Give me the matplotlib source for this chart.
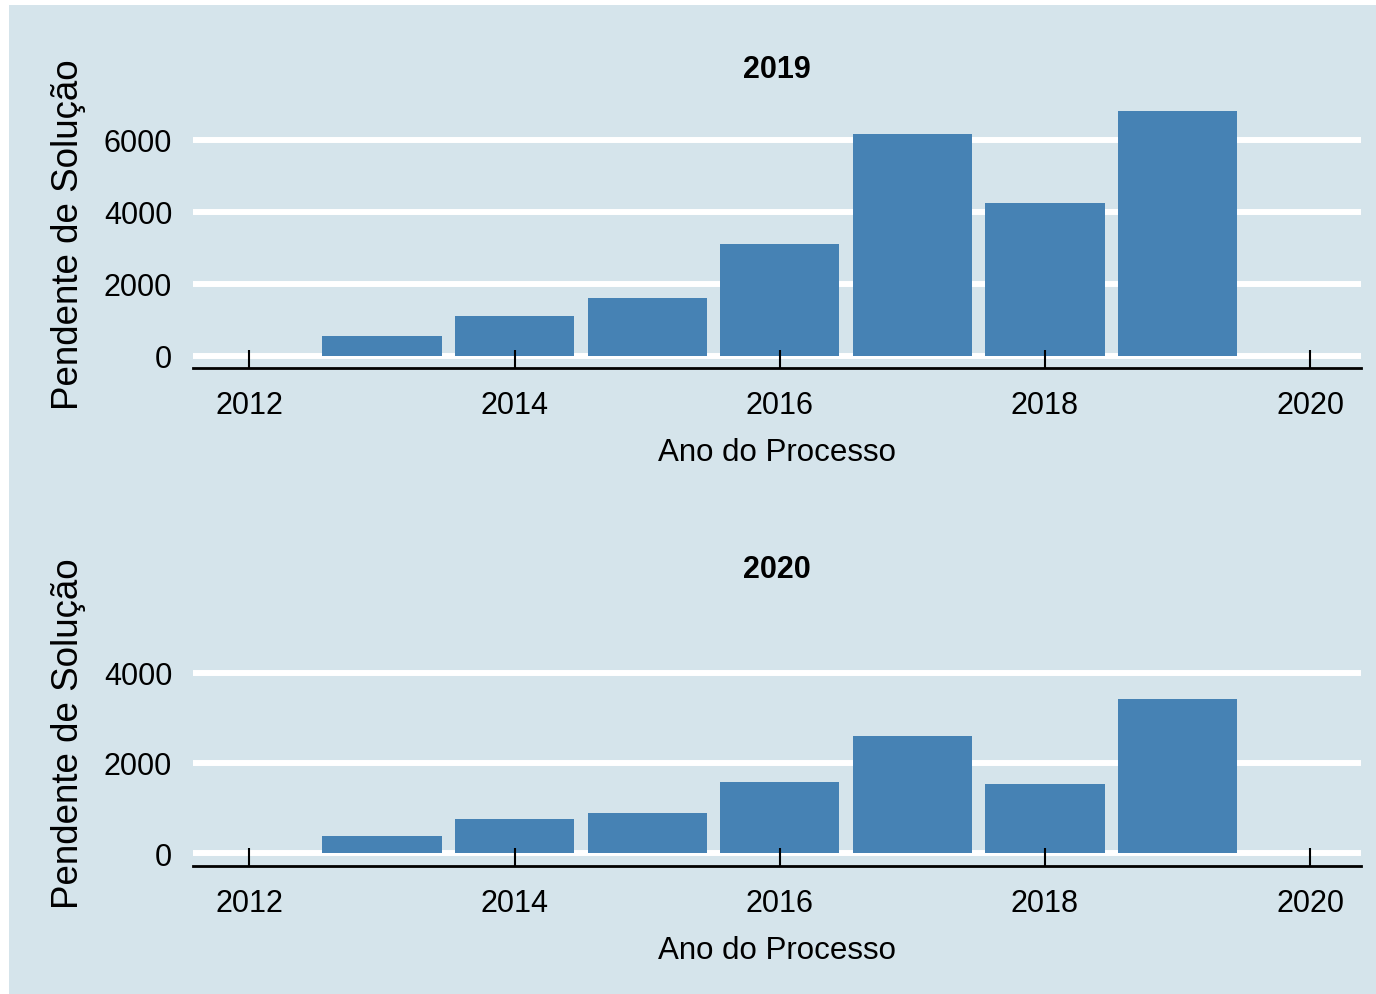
import matplotlib.pyplot as plt
from matplotlib.patches import Rectangle

plt.rcParams['font.family'] = ['Liberation Sans', 'DejaVu Sans']

anos = [2013, 2014, 2015, 2016, 2017, 2018, 2019]
pendentes_2019 = [545, 1105, 1605, 3110, 6170, 4250, 6805]
pendentes_2020 = [376, 751, 884, 1569, 2586, 1525, 3425]

bg = '#d5e4eb'
barra = '#4682b4'

fig = plt.figure(figsize=(13.76, 9.95), dpi=100, facecolor='white')
fig.add_artist(Rectangle((9 / 1376, 0), 1, 1 - 6 / 995, transform=fig.transFigure,
                         facecolor=bg, edgecolor='none', zorder=-10))


def painel(rect, valores, titulo, yticks, ylim):
    ax = fig.add_axes(rect)
    ax.set_facecolor(bg)
    ax.bar(anos, valores, width=0.9, color=barra, zorder=2)
    ax.set_xlim(2011.575, 2020.383)
    ax.set_ylim(*ylim)
    ax.set_xticks([2012, 2014, 2016, 2018, 2020])
    ax.set_yticks(yticks)
    ax.yaxis.grid(True, color='white', linewidth=4.3)
    # grade por baixo das barras, ticks do eixo x por cima
    ax.yaxis.set_zorder(0.5)
    ax.xaxis.set_zorder(3)
    for s in ['top', 'left', 'right']:
        ax.spines[s].set_visible(False)
    ax.spines['bottom'].set_linewidth(2)
    ax.spines['bottom'].set_color('black')
    ax.spines['bottom'].set_zorder(3)
    ax.tick_params(axis='x', direction='in', length=12.7, width=1.5, color='black',
                   labelsize=22, pad=15.5)
    ax.tick_params(axis='y', length=0, labelsize=22, pad=15)
    ax.set_title(titulo, fontsize=22, fontweight='bold', pad=16)
    ax.set_xlabel('Ano do Processo', fontsize=22.5, labelpad=12.3)
    ax.set_ylabel('Pendente de Solução', fontsize=26.5, va='center')
    ax.yaxis.set_label_coords(-0.107, 0.5)
    return ax


painel([193 / 1376, 1 - 369 / 995, 1168 / 1376, 269 / 995], pendentes_2019, '2019',
       [0, 2000, 4000, 6000], (-342, 7140))
painel([193 / 1376, 1 - 867.3 / 995, 1168 / 1376, 267.3 / 995], pendentes_2020, '2020',
       [0, 2000, 4000], (-294, 5635))

fig.savefig('out.png', dpi=100, facecolor='white')
